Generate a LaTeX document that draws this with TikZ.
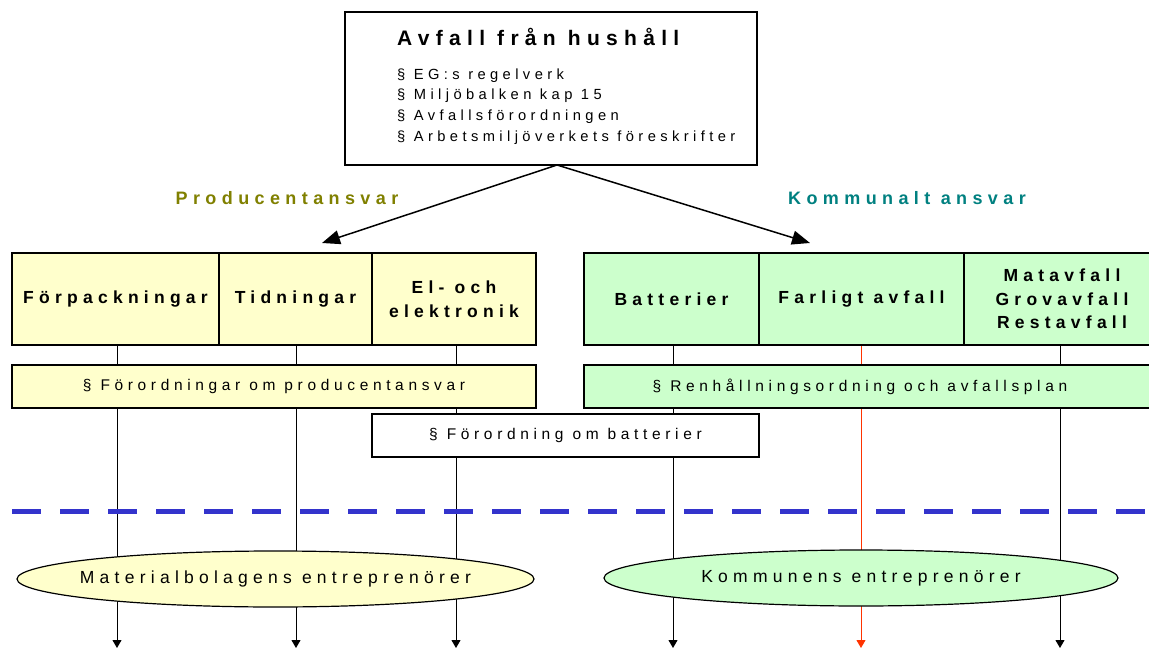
\documentclass[tikz,border=0pt]{standalone}
\usepackage{fontspec}
\setmainfont[LetterSpace=30]{Liberation Sans}
\usetikzlibrary{arrows.meta,shapes.geometric}
\definecolor{prodyellow}{HTML}{FFFFCC}
\definecolor{komgreen}{HTML}{CCFFCC}
\definecolor{prodolive}{HTML}{808000}
\definecolor{komteal}{HTML}{008080}
\definecolor{borderblue}{HTML}{3333CC}
\definecolor{flowred}{HTML}{FF3300}
\begin{document}
\begin{tikzpicture}[
    x=1pt, y=-1pt,
    every node/.style={align=center, inner sep=0pt},
    catbox/.style={draw, line width=1.2pt, minimum height=92pt, font=\fontsize{17.5}{23.5}\selectfont\bfseries},
    rulebox/.style={draw, line width=1.2pt, minimum height=43pt, font=\fontsize{15.5}{18}\selectfont},
    entbox/.style={draw, ellipse, line width=1.2pt, inner xsep=-80pt, minimum width=517pt, minimum height=56pt, font=\fontsize{17.5}{20}\selectfont},
    flow line/.style={draw, line width=1pt, -{Triangle[width=9pt,length=8pt]}},
    main arrow/.style={draw, line width=1.5pt, -{Triangle[width=14pt,length=18pt]}},
    ansvar/.style={font=\fontsize{18}{20}\selectfont\bfseries},
    ]
\useasboundingbox (0,0) rectangle (1149,650);
% flow lines go under the boxes
\coordinate (forpEnd) at (117,648);
\coordinate (tidnEnd) at (296,648);
\coordinate (elekEnd) at (456,648);
\coordinate (battEnd) at (673,648);
\coordinate (farlEnd) at (861,648);
\coordinate (matEnd) at (1060,648);
\draw[flow line] (117,345) -- (forpEnd);
\draw[flow line] (296,345) -- (tidnEnd);
\draw[flow line] (456,345) -- (elekEnd);
\draw[flow line] (673,345) -- (battEnd);
\draw[flow line, flowred] (861,345) -- (farlEnd);
\draw[flow line] (1060,345) -- (matEnd);
% top box
\node[draw, line width=1.2pt, minimum width=412pt, minimum height=153pt] (top) at (551,88.5) {};
\node[align=left, anchor=north west, font=\fontsize{14.7}{20.7}\selectfont] (lawlist) at (397,28)
  {\fontsize{21}{30}\selectfont\bfseries Avfall från hushåll\\[13pt]
   \fontsize{14.7}{20.7}\selectfont\mdseries § EG:s regelverk\\ § Miljöbalken kap 15\\ § Avfallsförordningen\\ § Arbetsmiljöverkets föreskrifter};
\coordinate (split) at (557,165);
\coordinate (prodTip) at (322,243);
\coordinate (komTip) at (810,243);
\draw[main arrow] (split) -- (prodTip);
\draw[main arrow] (split) -- (komTip);
\node[ansvar, text=prodolive] (prodlabel) at (287,198) {Producentansvar};
\node[ansvar, text=komteal] (komlabel) at (907,198) {Kommunalt ansvar};
% categories
\node[catbox, fill=prodyellow, minimum width=207pt] (forp) at (115.5,299) {Förpackningar};
\node[catbox, fill=prodyellow, minimum width=153pt] (tidn) at (295.5,299) {Tidningar};
\node[catbox, fill=prodyellow, minimum width=164pt] (elek) at (454,299) {El- och\\elektronik};
\node[catbox, fill=komgreen, minimum width=175pt] (batt) at (671.5,299) {Batterier};
\node[catbox, fill=komgreen, minimum width=205pt] (farl) at (861.5,299) {Farligt avfall};
\node[catbox, fill=komgreen, minimum width=196pt] (mat) at (1062,299) {Matavfall\\Grovavfall\\Restavfall};
% rules
\node[rulebox, fill=prodyellow, minimum width=524pt] (prodrule) at (274,386.5) {§ Förordningar om producentansvar};
\node[rulebox, fill=komgreen, minimum width=570pt] (komrule) at (869,386.5) {§ Renhållningsordning och avfallsplan\hspace{18pt}};
\node[rulebox, fill=white, minimum width=387pt] (battrule) at (565.5,435.5) {§ Förordning om batterier};
% border
\coordinate (borderL) at (12,511);
\coordinate (borderR) at (1149,511);
\draw[borderblue, line width=5pt, dash pattern=on 29pt off 19pt] (borderL) -- (borderR);
% entrepreneurs
\node[entbox, fill=prodyellow] (matent) at (275.5,579) {Materialbolagens entreprenörer};
\node[entbox, fill=komgreen, minimum width=514pt] (koment) at (861,578) {Kommunens entreprenörer};
\end{tikzpicture}
\end{document}
